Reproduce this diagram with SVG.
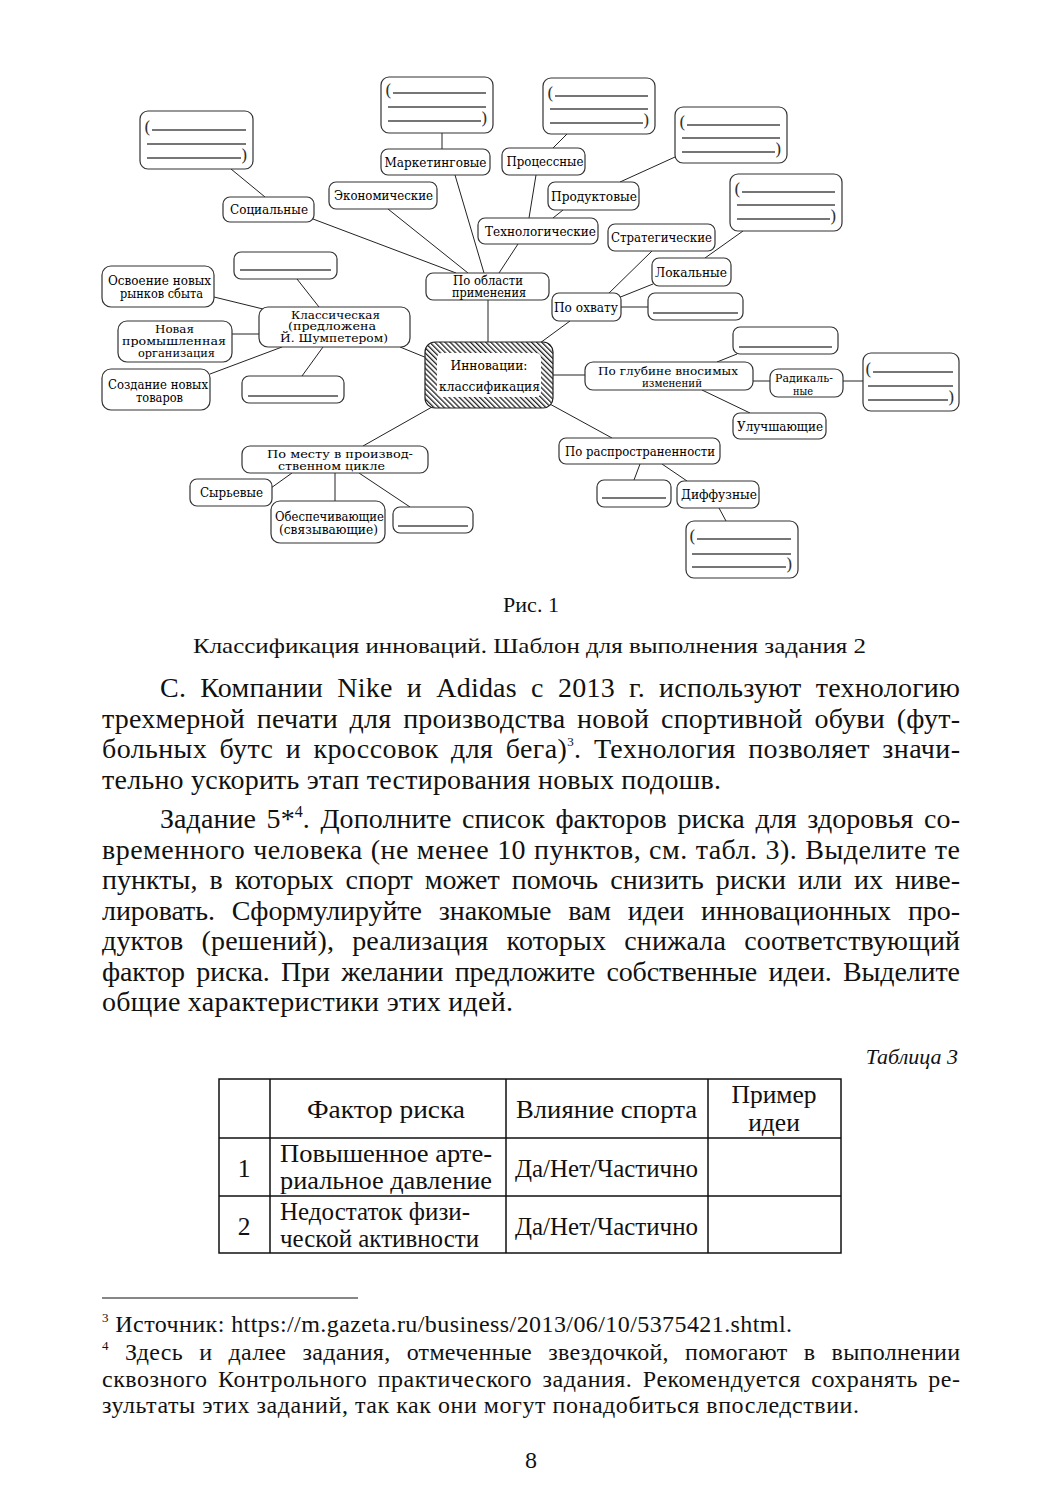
<svg xmlns="http://www.w3.org/2000/svg" width="1061" height="1500" viewBox="0 0 1061 1500">
<defs>
<pattern id="hatch" patternUnits="userSpaceOnUse" width="3.6" height="10" patternTransform="rotate(-45)">
<rect x="0" y="0" width="3.6" height="10" fill="#fff"/>
<rect x="0" y="0" width="1.3" height="10" fill="#222"/>
</pattern>
<style>
.box{fill:#fff;stroke:#333;stroke-width:1.2}
.bl{stroke:#4a4a4a;stroke-width:1.6;fill:none}
.con line{stroke:#222;stroke-width:1}
.lb{font-family:"DejaVu Serif","Liberation Serif",serif;font-size:12.5px;fill:#000;text-anchor:middle}
.sm{font-size:11px}
.par{font-family:"DejaVu Serif","Liberation Serif",serif;font-size:17px;fill:#333}
.tx{font-family:"Liberation Serif","Times New Roman",serif;fill:#111}
.body{font-size:28px}
.cap{font-size:22px}
.tb{font-size:25.5px}
.fn{font-size:24px}
</style>
</defs>
<rect width="1061" height="1500" fill="#fff"/>

<g id="connectors" class="con">
<line x1="231" y1="169" x2="265" y2="197"/>
<line x1="313" y1="219" x2="456" y2="273"/>
<line x1="388" y1="209" x2="468" y2="273"/>
<line x1="442" y1="133" x2="442" y2="149"/>
<line x1="455" y1="175" x2="484" y2="273"/>
<line x1="567" y1="134" x2="553" y2="148"/>
<line x1="536" y1="175" x2="529" y2="218"/>
<line x1="675" y1="157" x2="620" y2="182"/>
<line x1="563" y1="210" x2="553" y2="218"/>
<line x1="518" y1="244" x2="499" y2="273"/>
<line x1="652" y1="251" x2="607" y2="295"/>
<line x1="653" y1="284" x2="618" y2="298"/>
<line x1="743" y1="231" x2="705" y2="258"/>
<line x1="621" y1="307" x2="648" y2="307"/>
<line x1="488" y1="300" x2="488" y2="342"/>
<line x1="570" y1="321" x2="540" y2="343"/>
<line x1="553" y1="375" x2="585" y2="375"/>
<line x1="717" y1="362" x2="737" y2="354"/>
<line x1="753" y1="381" x2="770" y2="381"/>
<line x1="843" y1="381" x2="863" y2="381"/>
<line x1="702" y1="390" x2="750" y2="413"/>
<line x1="548" y1="403" x2="612" y2="438"/>
<line x1="640" y1="464" x2="634" y2="480"/>
<line x1="662" y1="464" x2="687" y2="481"/>
<line x1="719" y1="508" x2="726" y2="521"/>
<line x1="432" y1="407" x2="363" y2="446"/>
<line x1="292" y1="473" x2="271" y2="488"/>
<line x1="335" y1="473" x2="335" y2="501"/>
<line x1="359" y1="473" x2="410" y2="507"/>
<line x1="400" y1="347" x2="427" y2="358"/>
<line x1="319" y1="307" x2="297" y2="279"/>
<line x1="214" y1="297" x2="263" y2="309"/>
<line x1="232" y1="334" x2="259" y2="334"/>
<line x1="210" y1="374" x2="282" y2="347"/>
<line x1="323" y1="347" x2="302" y2="376"/>
</g>

<!-- three-line blank boxes -->
<g id="blank-social"><rect class="box" x="140" y="111" width="113" height="58" rx="8"/><text class="par" x="144" y="133">(</text><path class="bl" d="M152,130H246M147,144H246M147,158H241"/><text class="par" x="241" y="161">)</text></g>
<g id="blank-marketing"><rect class="box" x="381" y="77" width="112" height="56" rx="8"/><text class="par" x="385" y="96">(</text><path class="bl" d="M393,93H486M388,107H486M388,121H481"/><text class="par" x="481" y="124">)</text></g>
<g id="blank-process"><rect class="box" x="543" y="78" width="112" height="56" rx="8"/><text class="par" x="547" y="99">(</text><path class="bl" d="M555,96H648M550,109H648M550,123H643"/><text class="par" x="643" y="126">)</text></g>
<g id="blank-product"><rect class="box" x="675" y="107" width="112" height="56" rx="8"/><text class="par" x="679" y="128">(</text><path class="bl" d="M687,125H780M682,138H780M682,152H775"/><text class="par" x="775" y="155">)</text></g>
<g id="blank-local"><rect class="box" x="730" y="174" width="112" height="57" rx="8"/><text class="par" x="734" y="195">(</text><path class="bl" d="M742,192H835M737,205H835M737,219H830"/><text class="par" x="830" y="222">)</text></g>
<g id="blank-radical"><rect class="box" x="863" y="353" width="96" height="58" rx="8"/><text class="par" x="865" y="375">(</text><path class="bl" d="M873,372H953M868,386H953M868,400H948"/><text class="par" x="948" y="403">)</text></g>
<g id="blank-diffuse"><rect class="box" x="686" y="521" width="112" height="57" rx="8"/><text class="par" x="689" y="542">(</text><path class="bl" d="M697,539H791M692,554H791M692,567H786"/><text class="par" x="786" y="570">)</text></g>

<!-- single-line blank boxes -->
<g id="blank-classic-top"><rect class="box" x="234" y="252" width="103" height="27" rx="7"/><path class="bl" d="M240,270H331"/></g>
<g id="blank-classic-bottom"><rect class="box" x="242" y="376" width="102" height="27" rx="7"/><path class="bl" d="M248,396H338"/></g>
<g id="blank-scope"><rect class="box" x="648" y="293" width="95" height="27" rx="7"/><path class="bl" d="M653,313H738"/></g>
<g id="blank-depth"><rect class="box" x="733" y="327" width="105" height="27" rx="7"/><path class="bl" d="M739,347H832"/></g>
<g id="blank-spread"><rect class="box" x="597" y="480" width="74" height="27" rx="7"/><path class="bl" d="M602,498H666"/></g>
<g id="blank-place"><rect class="box" x="393" y="507" width="80" height="26" rx="7"/><path class="bl" d="M398,526H468"/></g>

<!-- labelled nodes -->
<g id="n-social"><rect class="box" x="223" y="197" width="91" height="25" rx="7"/><text class="lb" x="269" y="214" textLength="78" lengthAdjust="spacingAndGlyphs">Социальные</text></g>
<g id="n-econ"><rect class="box" x="329" y="182" width="108" height="27" rx="7"/><text class="lb" x="383.5" y="200" textLength="99" lengthAdjust="spacingAndGlyphs">Экономические</text></g>
<g id="n-marketing"><rect class="box" x="381" y="149" width="109" height="26" rx="7"/><text class="lb" x="435.5" y="166.5" textLength="102" lengthAdjust="spacingAndGlyphs">Маркетинговые</text></g>
<g id="n-process"><rect class="box" x="502" y="148" width="83" height="27" rx="7"/><text class="lb" x="545" y="166" textLength="77" lengthAdjust="spacingAndGlyphs">Процессные</text></g>
<g id="n-product"><rect class="box" x="548" y="182" width="91" height="28" rx="7"/><text class="lb" x="594" y="200.5" textLength="86" lengthAdjust="spacingAndGlyphs">Продуктовые</text></g>
<g id="n-tech"><rect class="box" x="478" y="218" width="120" height="26" rx="7"/><text class="lb" x="540.5" y="235.5" textLength="111" lengthAdjust="spacingAndGlyphs">Технологические</text></g>
<g id="n-strat"><rect class="box" x="608" y="224" width="107" height="27" rx="7"/><text class="lb" x="661.5" y="242" textLength="101" lengthAdjust="spacingAndGlyphs">Стратегические</text></g>
<g id="n-local"><rect class="box" x="652" y="258" width="79" height="28" rx="7"/><text class="lb" x="691" y="276.5" textLength="72" lengthAdjust="spacingAndGlyphs">Локальные</text></g>
<g id="n-area"><rect class="box" x="426" y="273" width="123" height="27" rx="7"/><text class="lb" x="488" y="284.5" textLength="70" lengthAdjust="spacingAndGlyphs">По области</text><text class="lb" x="489" y="296.5" textLength="74" lengthAdjust="spacingAndGlyphs">применения</text></g>
<g id="n-scope"><rect class="box" x="552" y="293" width="69" height="28" rx="7"/><text class="lb" x="586" y="311.5" textLength="64" lengthAdjust="spacingAndGlyphs">По охвату</text></g>
<g id="n-center"><rect x="425" y="342" width="128" height="66" rx="10" fill="url(#hatch)" stroke="#222" stroke-width="1.2"/><rect x="437" y="353" width="104" height="44" rx="5" fill="#fff"/><text class="lb" x="489" y="369.5" textLength="77" lengthAdjust="spacingAndGlyphs">Инновации:</text><text class="lb" x="489.5" y="391" textLength="101" lengthAdjust="spacingAndGlyphs">классификация</text></g>
<g id="n-classic"><rect class="box" x="259" y="307" width="151" height="40" rx="9"/><text class="lb sm" x="335.5" y="318.5" textLength="89" lengthAdjust="spacingAndGlyphs">Классическая</text><text class="lb sm" x="332" y="330" textLength="88" lengthAdjust="spacingAndGlyphs">(предложена</text><text class="lb sm" x="334" y="341.5" textLength="108" lengthAdjust="spacingAndGlyphs">Й. Шумпетером)</text></g>
<g id="n-markets"><rect class="box" x="102" y="266" width="112" height="41" rx="9"/><text class="lb" x="159.5" y="285" textLength="103" lengthAdjust="spacingAndGlyphs">Освоение новых</text><text class="lb" x="161.5" y="297.5" textLength="83" lengthAdjust="spacingAndGlyphs">рынков сбыта</text></g>
<g id="n-org"><rect class="box" x="118" y="321" width="114" height="41" rx="9"/><text class="lb sm" x="174.5" y="333" textLength="39" lengthAdjust="spacingAndGlyphs">Новая</text><text class="lb sm" x="174" y="345" textLength="104" lengthAdjust="spacingAndGlyphs">промышленная</text><text class="lb sm" x="176.5" y="357" textLength="77" lengthAdjust="spacingAndGlyphs">организация</text></g>
<g id="n-goods"><rect class="box" x="102" y="369" width="108" height="41" rx="9"/><text class="lb" x="158" y="389" textLength="100" lengthAdjust="spacingAndGlyphs">Создание новых</text><text class="lb" x="159.5" y="401.5" textLength="47" lengthAdjust="spacingAndGlyphs">товаров</text></g>
<g id="n-depth"><rect class="box" x="585" y="362" width="168" height="28" rx="8"/><text class="lb sm" x="668" y="375" textLength="140" lengthAdjust="spacingAndGlyphs">По глубине вносимых</text><text class="lb sm" x="672" y="387" textLength="60" lengthAdjust="spacingAndGlyphs">изменений</text></g>
<g id="n-radical"><rect class="box" x="770" y="369" width="73" height="28" rx="8"/><text class="lb sm" x="804" y="382" textLength="58" lengthAdjust="spacingAndGlyphs">Радикаль-</text><text class="lb sm" x="803" y="394.5" textLength="20" lengthAdjust="spacingAndGlyphs">ные</text></g>
<g id="n-improve"><rect class="box" x="733" y="413" width="93" height="26" rx="7"/><text class="lb" x="780" y="430.5" textLength="86" lengthAdjust="spacingAndGlyphs">Улучшающие</text></g>
<g id="n-spread"><rect class="box" x="559" y="438" width="161" height="26" rx="7"/><text class="lb" x="640" y="455.5" textLength="150" lengthAdjust="spacingAndGlyphs">По распространенности</text></g>
<g id="n-diffuse"><rect class="box" x="677" y="481" width="82" height="27" rx="7"/><text class="lb" x="719" y="499" textLength="76" lengthAdjust="spacingAndGlyphs">Диффузные</text></g>
<g id="n-place"><rect class="box" x="242" y="446" width="186" height="27" rx="8"/><text class="lb sm" x="340" y="458" textLength="146" lengthAdjust="spacingAndGlyphs">По месту в производ-</text><text class="lb sm" x="331.5" y="470" textLength="107" lengthAdjust="spacingAndGlyphs">ственном цикле</text></g>
<g id="n-raw"><rect class="box" x="190" y="479" width="82" height="27" rx="7"/><text class="lb" x="231.5" y="497" textLength="63" lengthAdjust="spacingAndGlyphs">Сырьевые</text></g>
<g id="n-support"><rect class="box" x="271" y="501" width="114" height="42" rx="9"/><text class="lb" x="329.5" y="520.5" textLength="109" lengthAdjust="spacingAndGlyphs">Обеспечивающие</text><text class="lb" x="328.5" y="534" textLength="99" lengthAdjust="spacingAndGlyphs">(связывающие)</text></g>

<!-- captions -->
<text class="tx cap" x="531" y="612" text-anchor="middle">Рис. 1</text>
<text class="tx cap" x="193" y="653" textLength="673" lengthAdjust="spacingAndGlyphs">Классификация инноваций. Шаблон для выполнения задания 2</text>

<!-- body text -->
<g class="tx body">
<text x="160" y="697" textLength="800" lengthAdjust="spacing" word-spacing="7">С. Компании Nike и Adidas с 2013 г. используют технологию</text>
<text x="102" y="727.5" textLength="858" lengthAdjust="spacing" word-spacing="4.5">трехмерной печати для производства новой спортивной обуви (фут-</text>
<text x="102" y="758" textLength="858" lengthAdjust="spacing" word-spacing="5">больных бутс и кроссовок для бега)<tspan font-size="13" dy="-12">3</tspan><tspan dy="12">. Технология позволяет значи-</tspan></text>
<text x="102" y="788.5" textLength="619" lengthAdjust="spacing">тельно ускорить этап тестирования новых подошв.</text>
<text x="160" y="828" textLength="800" lengthAdjust="spacing" word-spacing="3.5">Задание 5*<tspan font-size="16" dy="-11">4</tspan><tspan dy="11">. Дополните список факторов риска для здоровья со-</tspan></text>
<text x="102" y="858.5" textLength="858" lengthAdjust="spacing" word-spacing="0.5">временного человека (не менее 10 пунктов, см. табл. 3). Выделите те</text>
<text x="102" y="889" textLength="858" lengthAdjust="spacing" word-spacing="5">пункты, в которых спорт может помочь снизить риски или их ниве-</text>
<text x="102" y="919.5" textLength="858" lengthAdjust="spacing" word-spacing="10">лировать. Сформулируйте знакомые вам идеи инновационных про-</text>
<text x="102" y="950" textLength="858" lengthAdjust="spacing" word-spacing="11">дуктов (решений), реализация которых снижала соответствующий</text>
<text x="102" y="980.5" textLength="858" lengthAdjust="spacing" word-spacing="4.5">фактор риска. При желании предложите собственные идеи. Выделите</text>
<text x="102" y="1011" textLength="411" lengthAdjust="spacing">общие характеристики этих идей.</text>
</g>

<text class="tx cap" x="958" y="1064" text-anchor="end" font-style="italic" font-size="23">Таблица 3</text>

<!-- table -->
<g id="table3">
<rect x="219" y="1079" width="622" height="174" fill="none" stroke="#111" stroke-width="1.5"/>
<path d="M270,1079V1253M506,1079V1253M708,1079V1253M219,1138H841M219,1196H841" stroke="#111" stroke-width="1.5" fill="none"/>
<g class="tx tb">
<text x="307" y="1118" textLength="158" lengthAdjust="spacingAndGlyphs">Фактор риска</text>
<text x="516" y="1118" textLength="181" lengthAdjust="spacingAndGlyphs">Влияние спорта</text>
<text x="774" y="1103" text-anchor="middle">Пример</text>
<text x="774" y="1131" text-anchor="middle">идеи</text>
<text x="244" y="1177" text-anchor="middle">1</text>
<text x="280" y="1162" textLength="212" lengthAdjust="spacingAndGlyphs">Повышенное арте-</text>
<text x="280" y="1189" textLength="212" lengthAdjust="spacingAndGlyphs">риальное давление</text>
<text x="515" y="1177" textLength="183" lengthAdjust="spacingAndGlyphs">Да/Нет/Частично</text>
<text x="244" y="1235" text-anchor="middle">2</text>
<text x="280" y="1220" textLength="190" lengthAdjust="spacingAndGlyphs">Недостаток физи-</text>
<text x="280" y="1247" textLength="199" lengthAdjust="spacingAndGlyphs">ческой активности</text>
<text x="515" y="1235" textLength="183" lengthAdjust="spacingAndGlyphs">Да/Нет/Частично</text>
</g>
</g>

<!-- footnotes -->
<line x1="102" y1="1298" x2="358" y2="1298" stroke="#111" stroke-width="1.2"/>
<g class="tx fn">
<text x="102" y="1332" textLength="690" lengthAdjust="spacing"><tspan font-size="13" dy="-10">3</tspan><tspan dy="10"> Источник: https://m.gazeta.ru/business/2013/06/10/5375421.shtml.</tspan></text>
<text x="102" y="1360" textLength="858" lengthAdjust="spacing" word-spacing="10"><tspan font-size="13" dy="-10">4</tspan><tspan dy="10"> Здесь и далее задания, отмеченные звездочкой, помогают в выполнении</tspan></text>
<text x="102" y="1387" textLength="858" lengthAdjust="spacing" word-spacing="4">сквозного Контрольного практического задания. Рекомендуется сохранять ре-</text>
<text x="102" y="1413" textLength="757" lengthAdjust="spacing">зультаты этих заданий, так как они могут понадобиться впоследствии.</text>
<text x="531" y="1468" text-anchor="middle">8</text>
</g>
</svg>
